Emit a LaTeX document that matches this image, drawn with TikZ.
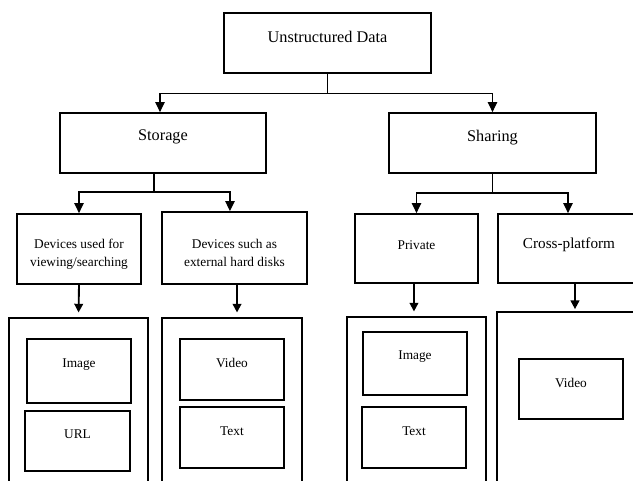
\documentclass[tikz,border=0pt]{standalone}
\usepackage{fontspec}
\setmainfont{Liberation Serif}
\usetikzlibrary{arrows.meta}
\begin{document}
\begin{tikzpicture}[x=0.75pt,y=-0.75pt,
  box/.style={draw,line width=1.3pt,inner sep=0pt,minimum width=#1},
  lbl/.style={inner sep=0pt,align=center,font=\fontsize{10}{13.5}\selectfont},
  big/.style={inner sep=0pt,font=\fontsize{12.2}{14}\selectfont},
  thin/.style={line width=0.7pt},
  mid/.style={line width=1pt,-{Triangle[length=7.5pt,width=7pt]}},
  stem/.style={line width=1.4pt,-{Triangle[length=6.5pt,width=6.5pt]},shorten >=3.5pt}]
\useasboundingbox (0,0) rectangle (633,481);
\clip (0,0) rectangle (633,481);
% level 1
\node[box=207*0.75pt,minimum height=45pt] (top) at (327.5,43) {};
\node[big] (topt) at (327.5,37) {Unstructured Data};
% level 2
\node[box=206*0.75pt,minimum height=45pt] (sto) at (163,143) {};
\node[big] (stot) at (163,137) {Storage};
\node[box=207*0.75pt,minimum height=45pt] (sha) at (492.5,143) {};
\node[big] (shat) at (492.5,138) {Sharing};
% level 3
\node[box=124*0.75pt,minimum height=52.5pt] (b1) at (79,249) {};
\node[lbl] (b1t) at (79,254) {Devices used for\\viewing/searching};
\node[box=145*0.75pt,minimum height=54pt] (b2) at (234.5,248) {};
\node[lbl] (b2t) at (234.5,253) {Devices such as\\external hard disks};
\node[box=123*0.75pt,minimum height=51.75pt] (b3) at (416.5,248.5) {};
\node[lbl] (b3t) at (416.5,245) {Private};
\node[box=142*0.75pt,minimum height=51.75pt] (b4) at (569,248.5) {};
\node[inner sep=0pt,font=\fontsize{11.4}{14}\selectfont] (b4t) at (569,245) {Cross-platform};
% containers
\node[box=139*0.75pt,minimum height=150pt] (c1) at (78.5,418) {};
\node[box=140*0.75pt,minimum height=150pt] (c2) at (232,418) {};
\node[box=139*0.75pt,minimum height=150pt] (c3) at (416.5,417) {};
\node[box=160*0.75pt,minimum height=150pt] (c4) at (577,412) {};
% inner boxes
\node[box=104*0.75pt,minimum height=48pt] (i1) at (79,371) {};
\node[lbl] (i1t) at (79,365) {Image};
\node[box=105*0.75pt,minimum height=45pt] (u1) at (77.5,441) {};
\node[lbl] (u1t) at (77.5,434) {URL};
\node[box=104*0.75pt,minimum height=45.75pt] (v2) at (232,369.5) {};
\node[lbl] (v2t) at (232,363) {Video};
\node[box=104*0.75pt,minimum height=45.75pt] (t2) at (232,437.5) {};
\node[lbl] (t2t) at (232,431) {Text};
\node[box=104*0.75pt,minimum height=47.25pt] (i3) at (415,363.5) {};
\node[lbl] (i3t) at (415,357) {Image};
\node[box=104*0.75pt,minimum height=45.75pt] (t3) at (414,437.5) {};
\node[lbl] (t3t) at (414,431) {Text};
\node[box=104*0.75pt,minimum height=45pt] (v4) at (571,389) {};
\node[lbl] (v4t) at (571,383) {Video};
% connectors level 1 -> 2
\draw[thin] (top.south) -- ++(0,20) coordinate (j1);
\draw[mid,line width=0.8pt] (j1) -| ([xshift=-2.25pt]sto.north);
\draw[mid,line width=0.8pt] (j1) -| (sha.north);
% level 2 -> 3
\draw[thin,line width=0.9pt] ([xshift=-6.75pt]sto.south) -- ++(0,18) coordinate (j2);
\draw[mid] (j2) -| (b1.north);
\draw[mid] (j2) -| ([xshift=-3.4pt]b2.north);
\draw[thin,line width=0.9pt] (sha.south) -- ++(0,19) coordinate (j3);
\draw[mid] (j3) -| (b3.north);
\draw[mid] (j3) -| ([xshift=-0.75pt]b4.north);
% level 3 -> containers
\draw[stem] (b1.south) -- (c1.north);
\draw[stem] ([xshift=1.9pt]b2.south) -- ([xshift=1.9pt]b2.south |- c2.north);
\draw[stem] ([xshift=-1.9pt]b3.south) -- ([xshift=-1.9pt]b3.south |- c3.north);
\draw[stem,shorten >=1.5pt] ([xshift=4.5pt]b4.south) -- ([xshift=4.5pt]b4.south |- c4.north);
\end{tikzpicture}
\end{document}
